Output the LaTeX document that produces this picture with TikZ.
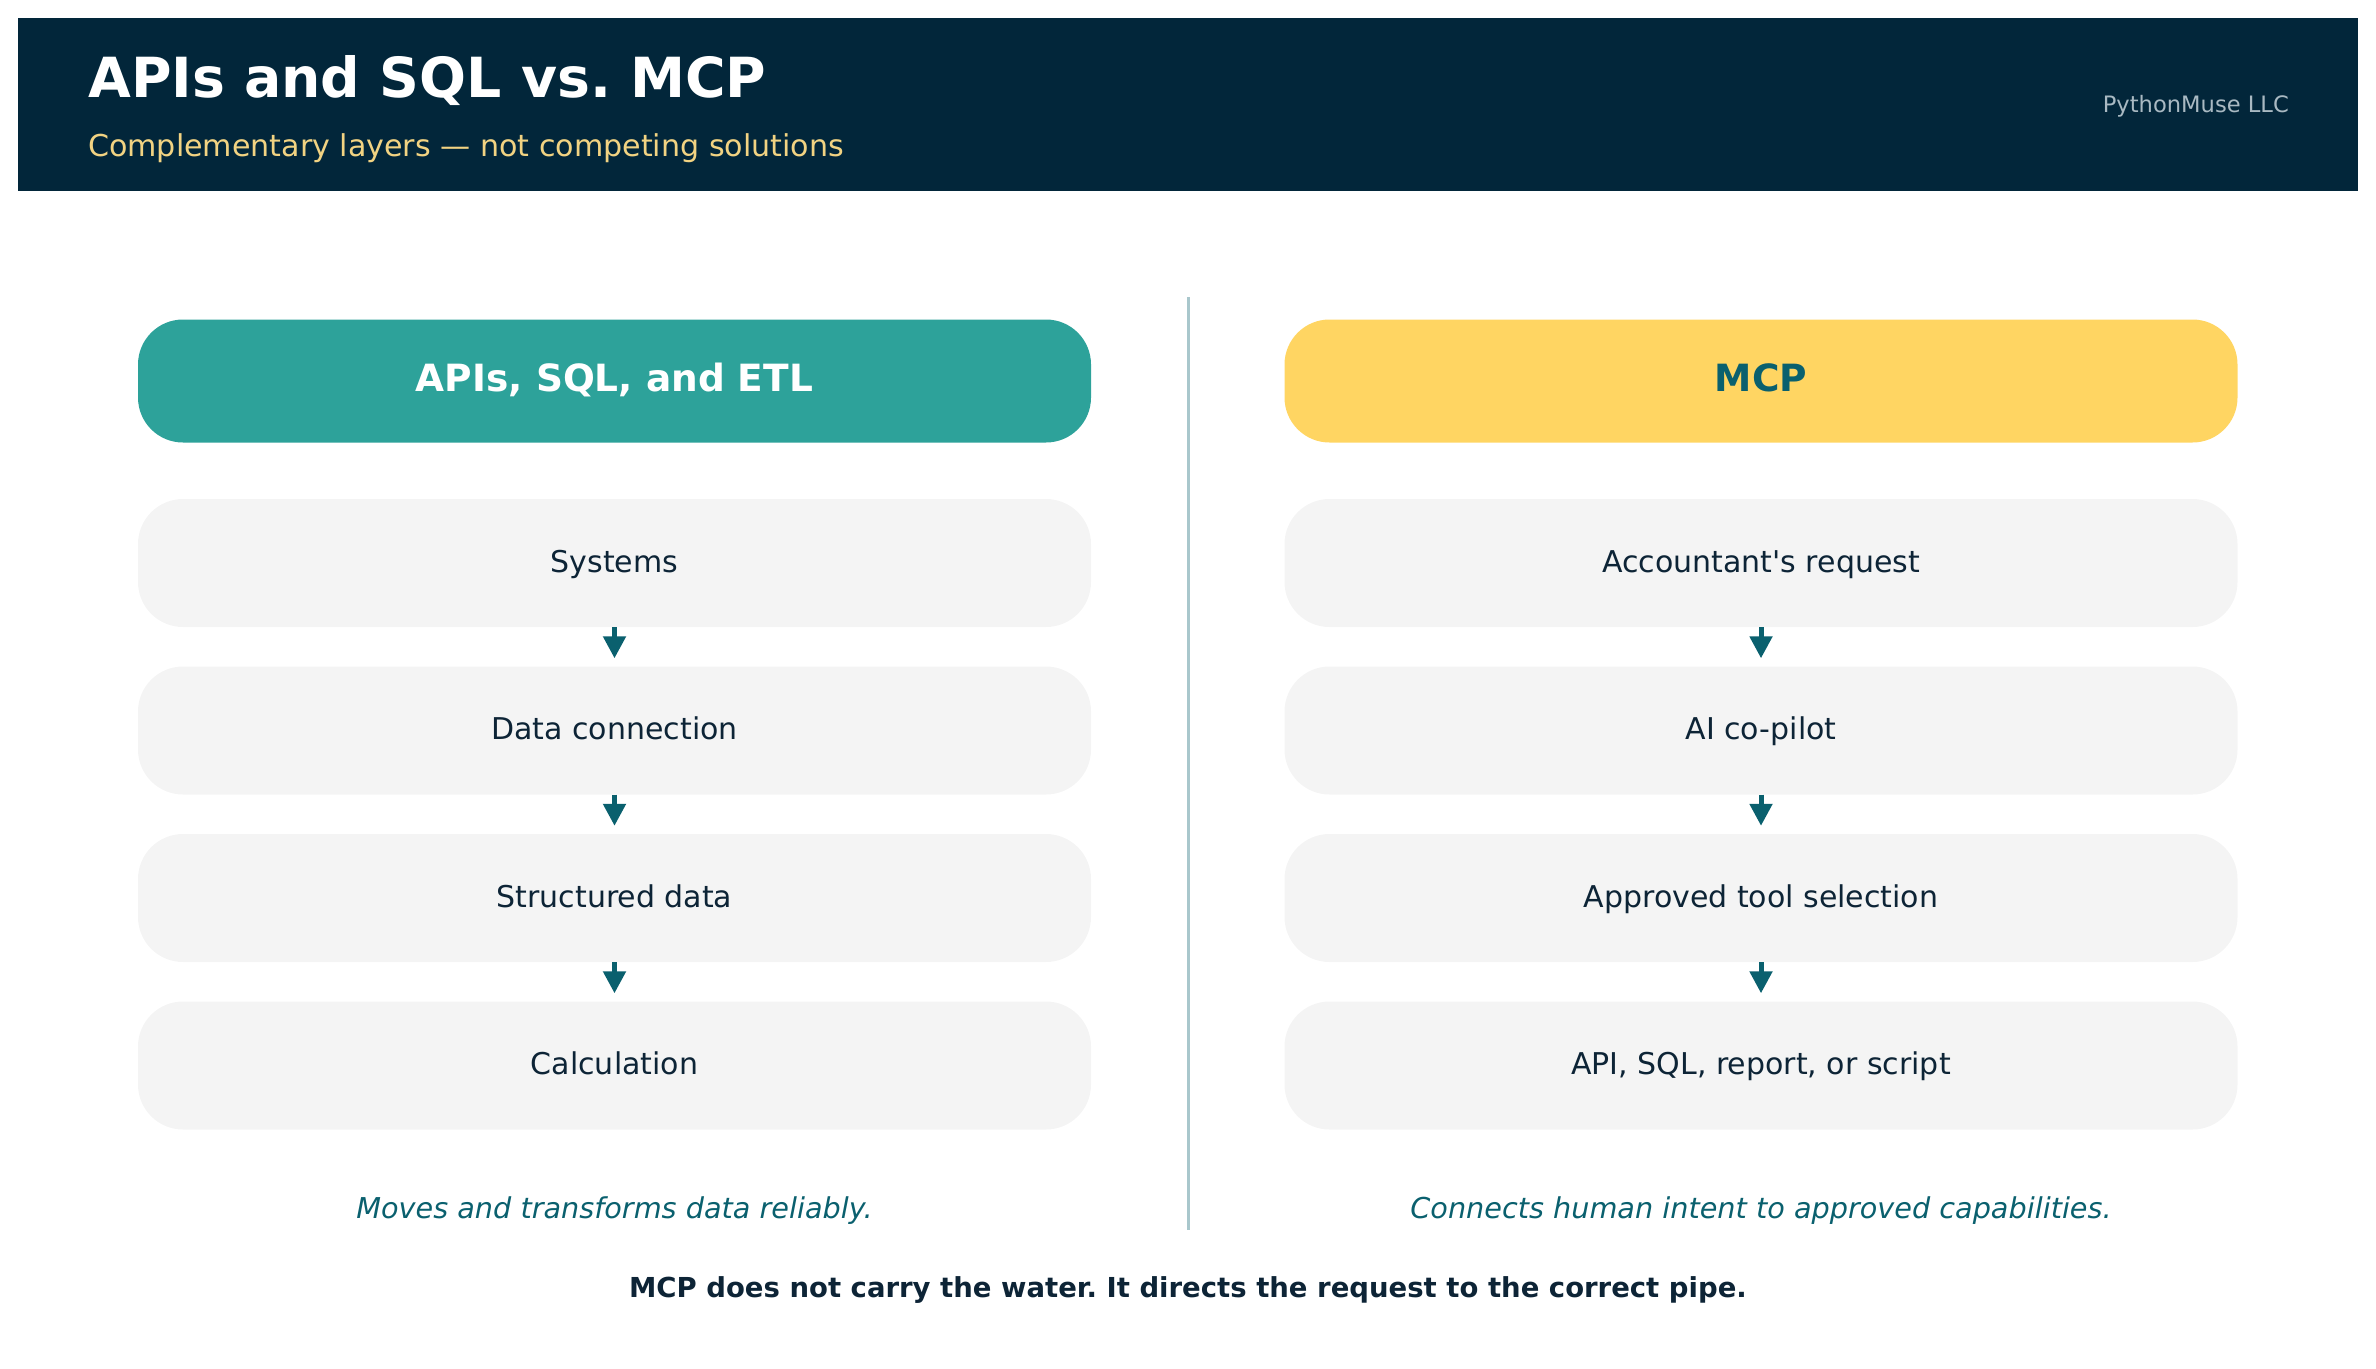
\documentclass[tikz,border=0pt]{standalone}
\usepackage{fontspec}
\setmainfont{DejaVu Sans}
\usetikzlibrary{arrows.meta}
\usepackage{xcolor}
\definecolor{navy}{HTML}{02263A}
\definecolor{tealbox}{HTML}{2DA29A}
\definecolor{goldbox}{HTML}{FFD562}
\definecolor{boxgrey}{HTML}{F4F4F4}
\definecolor{deepteal}{HTML}{0A606E}
\definecolor{ink}{HTML}{0D2436}
\definecolor{rule}{HTML}{A9C7CC}
\definecolor{subgold}{HTML}{F2D382}
\definecolor{brandgrey}{HTML}{A9B9C2}
\frenchspacing

\begin{document}
\begin{tikzpicture}[x=1pt, y=-1pt,
  colhead/.style={rounded corners=45pt, minimum width=953pt, minimum height=123pt, inner sep=0pt,
    text height=24pt, text depth=4pt, font=\fontsize{37.5}{45}\selectfont\bfseries},
  flowbox/.style={fill=boxgrey, rounded corners=45pt, minimum width=953pt, minimum height=128pt, inner sep=0pt,
    text=ink, text height=20pt, text depth=2pt, font=\fontsize{30}{36}\selectfont},
  flowarrow/.style={draw=deepteal, line width=5pt, -{Triangle[width=22pt,length=22pt]}, shorten >=8pt},
  caption/.style={anchor=base, inner sep=0pt, text=deepteal, font=\fontsize{28.7}{34}\selectfont\itshape}]
\useasboundingbox (0,0) rectangle (2376,1368);

% banner
\fill[navy] (18,18) rectangle (2358,191);
\node[anchor=base west, inner sep=0pt, text=white, font=\fontsize{55.3}{65}\selectfont\bfseries] (title) at (88,97) {APIs and SQL vs. MCP};
\node[anchor=base west, inner sep=0pt, text=subgold, font=\fontsize{30.1}{36}\selectfont] (subtitle) at (88,156) {Complementary layers — not competing solutions};
\node[anchor=base east, inner sep=0pt, text=brandgrey, font=\fontsize{22.6}{28}\selectfont] (brand) at (2289,112) {PythonMuse LLC};

\draw[rule, line width=3pt] (1188,297) -- (1188,1230);

% column heads
\node[colhead, fill=tealbox, text=white] (headL) at (614.5,381) {APIs, SQL, and ETL};
\node[colhead, fill=goldbox, text=deepteal] (headR) at (1761,381) {MCP};

% steps
\foreach \txt [count=\i] in {Systems, Data connection, Structured data, Calculation}
  \node[flowbox] (L\i) at (614.5,{563+167.5*(\i-1)}) {\txt};
\foreach \txt [count=\i] in {Accountant\textquotesingle{}s request, AI co-pilot, Approved tool selection, {API, SQL, report, or script}}
  \node[flowbox] (R\i) at (1761,{563+167.5*(\i-1)}) {\txt};

\foreach \a/\b in {1/2,2/3,3/4} {
  \draw[flowarrow] (L\a) -- (L\b);
  \draw[flowarrow] (R\a) -- (R\b);
}

\node[caption] (capL) at (614.5,1218) {Moves and transforms data reliably.};
\node[caption] (capR) at (1761,1218) {Connects human intent to approved capabilities.};

\node[anchor=base, inner sep=0pt, text=ink, font=\fontsize{27.5}{33}\selectfont\bfseries] (moral) at (1188,1297) {MCP does not carry the water. It directs the request to the correct pipe.};

\end{tikzpicture}
\end{document}
